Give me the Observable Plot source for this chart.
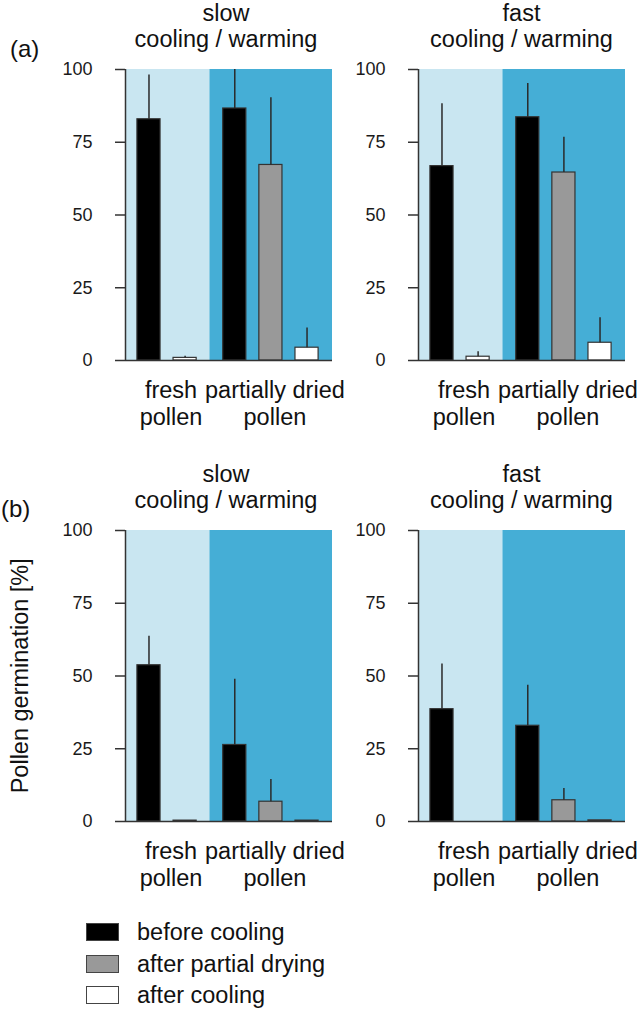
<!DOCTYPE html>
<html>
<head>
<meta charset="utf-8">
<script src="https://cdn.jsdelivr.net/npm/d3@7"></script>
<script src="https://cdn.jsdelivr.net/npm/@observablehq/plot@0.6"></script>
<style>
  html, body { margin: 0; padding: 0; background: #fff; }
  #root { position: relative; width: 644px; height: 1010px; overflow: hidden;
          font-family: "Liberation Sans", Arial, sans-serif; color: #111; }
  .abs { position: absolute; white-space: nowrap; }
  .t { font-size: 23.5px; line-height: 23.5px; }
  .ctr { text-align: center; }
  .sw { position: absolute; width: 31px; height: 16px; border: 1.5px solid #444; }
</style>
</head>
<body>
<div id="root"></div>
<script>
// ---- data ----
const rows = ["(a)", "(b)"];
const speeds = ["slow", "fast"];
const subtitle = "cooling / warming";
const groups = ["fresh", "dried"];
const groupLabels = ["fresh\npollen", "partially dried\npollen"];
const series = ["before cooling", "after partial drying", "after cooling"];
const seriesColors = ["#000000", "#999999", "#ffffff"];
const barGroup = ["fresh", "fresh", "dried", "dried", "dried"];
const barSeries = ["before cooling", "after cooling", "before cooling", "after partial drying", "after cooling"];
const yTicks = [0, 25, 50, 75, 100];
const yLabel = "Pollen germination [%]";

const aSlowMean  = [82.9, 0.9, 86.6, 67.2, 4.4];
const aSlowUpper = [98.1, 1.5, 100, 90.3, 11.2];
const aFastMean  = [66.8, 1.3, 83.6, 64.6, 6.1];
const aFastUpper = [88.2, 3.0, 95.2, 76.7, 14.7];
const bSlowMean  = [53.7, 0.3, 26.3, 6.8, 0.3];
const bSlowUpper = [63.7, null, 48.9, 14.4, null];
const bFastMean  = [38.6, 0, 32.9, 7.3, 0.4];
const bFastUpper = [54.1, null, 46.8, 11.3, null];

// ---- layout ----
const root = document.getElementById("root");
const FONT = '"Liberation Sans", Arial, sans-serif';
const LIGHT = "#c9e6f1", DARK = "#45aed6";
const xDomain = [0.35, 6.08];
const groupGap = 1.375;

// slot positions on a linear x scale
function slotPositions() {
  const pos = [];
  let k = {fresh: 0, dried: 0};
  barGroup.forEach(g => {
    pos.push(g === "fresh" ? 1 + k.fresh++ : 2 + groupGap + k.dried++);
  });
  return pos;
}
const xs = slotPositions();
const boundary = (Math.max(...xs.filter((_, i) => barGroup[i] === "fresh")) +
                  Math.min(...xs.filter((_, i) => barGroup[i] === "dried"))) / 2;

function panel(means, uppers, opts) {
  const bars = means.map((v, i) => ({x: xs[i], series: barSeries[i], value: v, upper: uppers[i]}));
  const labels = groups.map((g, j) => {
    const p = xs.filter((_, i) => barGroup[i] === g);
    return {x: d3.mean(p), text: groupLabels[j]};
  });
  const hw = 0.32;
  return Plot.plot({
    width: opts.width, height: 370,
    marginTop: 9, marginBottom: 70, marginLeft: opts.ml, marginRight: opts.mr,
    x: {domain: xDomain, axis: null},
    y: {domain: [0, 100], axis: null},
    color: {domain: series, range: seriesColors},
    style: {background: "none", overflow: "visible", fontFamily: FONT, fontSize: "18px", color: "#1a1a1a"},
    marks: [
      Plot.rect([0], {x1: xDomain[0], x2: boundary, y1: 0, y2: 100, fill: LIGHT}),
      Plot.rect([0], {x1: boundary, x2: xDomain[1], y1: 0, y2: 100, fill: DARK}),
      Plot.rect(bars, {x1: d => d.x - hw, x2: d => d.x + hw, y1: 0, y2: "value",
                       fill: "series", stroke: "#333", strokeWidth: 1.2}),
      Plot.ruleX(bars.filter(d => d.upper != null), {x: "x", y1: "value", y2: "upper",
                       stroke: "#2a2a2a", strokeWidth: 1.5}),
      Plot.ruleX([xDomain[0]], {y1: 0, y2: 100, stroke: "#333", strokeWidth: 1.5}),
      Plot.ruleY([0], {stroke: "#333", strokeWidth: 1.5}),
      Plot.axisY({ticks: yTicks, tickSize: 10, tickPadding: 23, fontSize: 18,
                  stroke: "#333", strokeWidth: 1.5, label: null}),
      Plot.text(labels, {x: "x", y: 0, text: "text", dy: 19, dx: 4, lineAnchor: "top",
                  fontSize: 23.5, lineHeight: 1.12, fill: "#111"})
    ]
  });
}

function place(el, left, top) {
  const d = document.createElement("div");
  d.className = "abs";
  d.style.left = left + "px";
  d.style.top = top + "px";
  d.appendChild(el);
  root.appendChild(d);
}

function text(str, left, baseline, cls, width) {
  const d = document.createElement("div");
  d.className = "abs t " + (cls || "");
  d.textContent = str;
  d.style.top = (baseline - 19.9) + "px";
  if (width != null) { d.style.width = width + "px"; d.style.left = (left - width / 2) + "px"; }
  else d.style.left = left + "px";
  root.appendChild(d);
  return d;
}

const data = [
  [[aSlowMean, aSlowUpper], [aFastMean, aFastUpper]],
  [[bSlowMean, bSlowUpper], [bFastMean, bFastUpper]]
];
const rowTop = [60, 521];
const titleBase = [21.5, 482.5];
const colCfg = [
  {left: 0, width: 335, ml: 125, mr: 3, center: 226},
  {left: 335, width: 309, ml: 83, mr: 19, center: 521.5}
];

rows.forEach((r, ri) => {
  speeds.forEach((s, ci) => {
    const c = colCfg[ci];
    place(panel(data[ri][ci][0], data[ri][ci][1], c), c.left, rowTop[ri]);
    text(s, c.center, titleBase[ri], "ctr", 300);
    text(subtitle, c.center, titleBase[ri] + 26, "ctr", 300);
  });
});

// row labels
text(rows[0], 10, 57, "").style.fontSize = "24px";
text(rows[1], 1, 517, "").style.fontSize = "24px";

// y label
const yl = document.createElement("div");
yl.className = "abs t ctr";
yl.textContent = yLabel;
yl.style.width = "300px";
yl.style.height = "23.5px";
yl.style.left = (20.5 - 150) + "px";
yl.style.top = (676 - 11.75) + "px";
yl.style.transform = "rotate(-90deg)";
root.appendChild(yl);

// legend
series.forEach((s, i) => {
  const top = 923 + i * 31.5;
  const sw = document.createElement("div");
  sw.className = "sw";
  sw.style.left = "86px";
  sw.style.top = top + "px";
  sw.style.background = seriesColors[i];
  root.appendChild(sw);
  text(s, 137, top + 18, "");
});
</script>
</body>
</html>
